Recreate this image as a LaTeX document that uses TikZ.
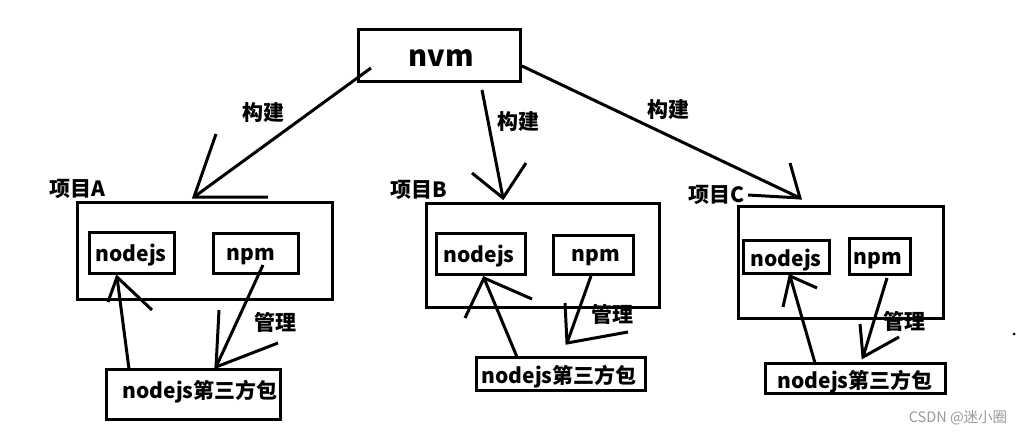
\documentclass[tikz,border=0pt]{standalone}
\usepackage{fontspec}
\setmainfont{Noto Sans CJK SC}
\usetikzlibrary{positioning}
\pgfdeclarelayer{nodelayer}
\pgfdeclarelayer{edgelayer}
\pgfsetlayers{edgelayer,nodelayer,main}
\tikzset{box/.style={draw, line width=3pt, inner sep=0pt, anchor=center}}
\tikzset{word/.style={inner sep=0pt, yshift=-4pt, font=\bfseries\fontsize{21}{21}\selectfont}}
\tikzset{tag/.style={inner sep=0pt, yshift=-1pt, font=\bfseries\fontsize{21}{21}\selectfont}}
\tikzset{big/.style={inner sep=0pt, yshift=-3pt, font=\bfseries\fontsize{29}{29}\selectfont}}
\tikzset{stroke/.style={line width=3pt}}
\tikzstyle{none}=[inner sep=0pt]

\begin{document}
\begin{tikzpicture}[x=1pt, y=-1pt]
        \useasboundingbox (0,0) rectangle (1023,433);
        \begin{pgfonlayer}{nodelayer}
            % nvm
            \node [box, minimum width=162, minimum height=52] (0) at (439, 56) {};
            \node [big] (1) at (441, 55) {nvm};
            % project A
            \node [box, minimum width=255, minimum height=97] (2) at (204.5, 250.5) {};
            \node [box, minimum width=85, minimum height=41] (3) at (131.5, 252.5) {};
            \node [word] (4) at (131, 251) {nodejs};
            \node [box, minimum width=85, minimum height=40] (5) at (255.5, 253) {};
            \node [word] (6) at (251, 253) {npm};
            \node [box, minimum width=174, minimum height=50] (7) at (193, 394) {};
            \node [word] (8) at (200, 388) {nodejs第三方包};
            \node [tag] (9) at (77, 188) {项目A};
            \node [tag] (10) at (263, 112) {构建};
            \node [tag] (11) at (275, 321) {管理};
            % project B
            \node [box, minimum width=233, minimum height=104] (12) at (542.5, 255) {};
            \node [box, minimum width=89, minimum height=41] (13) at (480.5, 253.5) {};
            \node [word] (14) at (479, 252) {nodejs};
            \node [box, minimum width=80, minimum height=39] (15) at (593, 254.5) {};
            \node [word] (16) at (596, 254) {npm};
            \node [box, minimum width=169, minimum height=33] (17) at (560.5, 373.5) {};
            \node [word] (18) at (559, 373) {nodejs第三方包};
            \node [tag] (19) at (419, 189) {项目B};
            \node [tag] (20) at (518, 121) {构建};
            \node [tag] (21) at (612, 313) {管理};
            % project C
            \node [box, minimum width=205, minimum height=112] (22) at (840.5, 262) {};
            \node [box, minimum width=86, minimum height=33] (23) at (786, 256.5) {};
            \node [word] (24) at (786, 256) {nodejs};
            \node [box, minimum width=61, minimum height=36] (25) at (879.5, 256) {};
            \node [word] (26) at (878, 257) {npm};
            \node [box, minimum width=180, minimum height=30] (27) at (855, 378) {};
            \node [word] (28) at (855, 378) {nodejs第三方包};
            \node [tag] (29) at (716, 194) {项目C};
            \node [tag] (30) at (668, 109) {构建};
            \node [tag] (31) at (904, 320) {管理};
            % stray dot and mark
            \node [circle, fill=black, inner sep=0pt, minimum size=3] (32) at (1014, 334) {};
            \node [none, text=black!40, font=\fontsize{14.5}{14.5}\selectfont] (33) at (958, 418) {CSDN @迷小圈};
        \end{pgfonlayer}
        % arrow points: start, head, wing, wing
        \coordinate (a0) at (371, 68);  \coordinate (a1) at (194, 197);
        \coordinate (a2) at (216, 134); \coordinate (a3) at (268, 197);
        \coordinate (b0) at (482, 90);  \coordinate (b1) at (503, 198);
        \coordinate (b2) at (472, 173); \coordinate (b3) at (526, 163);
        \coordinate (c0) at (522, 66);  \coordinate (c1) at (800, 198);
        \coordinate (c2) at (790, 163); \coordinate (c3) at (748, 195);
        \coordinate (d0) at (129, 369); \coordinate (d1) at (117, 277);
        \coordinate (d2) at (108, 302); \coordinate (d3) at (152, 310);
        \coordinate (e0) at (517, 357); \coordinate (e1) at (484, 278);
        \coordinate (e2) at (465, 318); \coordinate (e3) at (532, 299);
        \coordinate (f0) at (815, 363); \coordinate (f1) at (790, 276);
        \coordinate (f2) at (783, 307); \coordinate (f3) at (817, 288);
        \coordinate (g0) at (263, 265); \coordinate (g1) at (216, 367);
        \coordinate (g2) at (219, 310); \coordinate (g3) at (278, 343);
        \coordinate (h0) at (591, 276); \coordinate (h1) at (567, 343);
        \coordinate (h2) at (565, 303); \coordinate (h3) at (628, 332);
        \coordinate (k0) at (887, 278); \coordinate (k1) at (863, 357);
        \coordinate (k2) at (860, 324); \coordinate (k3) at (899, 337);
        \begin{pgfonlayer}{edgelayer}
            \foreach \p in {a,b,c,d,e,f,g,h,k} {
                \draw [stroke] (\p0) to (\p1);
                \draw [stroke] (\p2) to (\p1) to (\p3);
            }
        \end{pgfonlayer}
    \end{tikzpicture}
\end{document}
